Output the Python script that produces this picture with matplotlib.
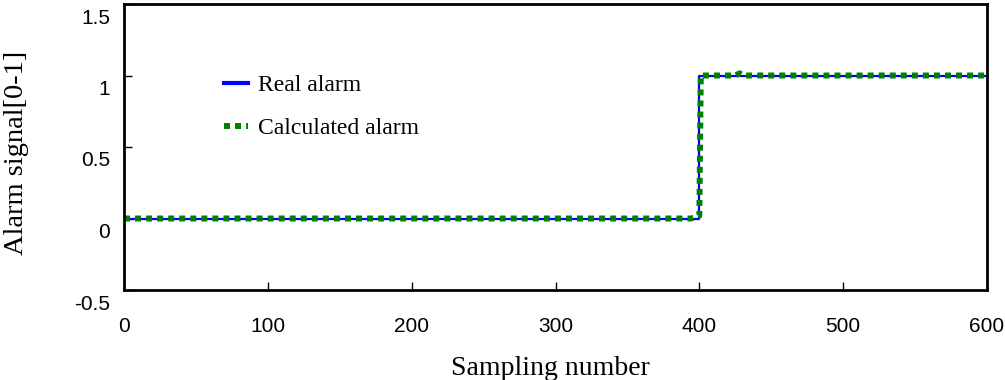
import matplotlib
matplotlib.use('Agg')
import matplotlib.pyplot as plt
import matplotlib.transforms as mtransforms

# Real alarm: step from 0 to 1 at sample 400
real_x = [0, 400, 400, 600]
real_y = [0, 0, 1, 1]

# Calculated alarm: same step with small deviations
calc_x = [0, 394, 398, 400, 401, 425, 428, 431, 600]
calc_y = [0, 0, 0.01, 0.02, 1, 1, 1.015, 1, 1]

xticks = [0, 100, 200, 300, 400, 500, 600]
yticks = [-0.5, 0, 0.5, 1, 1.5]
ytick_labels = ['-0.5', '0', '0.5', '1', '1.5']

fig = plt.figure(figsize=(10.05, 3.8), dpi=100)
ax = fig.add_axes([124 / 1005, 1 - 290 / 380, (987 - 124) / 1005, (290 - 4) / 380])

ax.plot(real_x, real_y, color='#0000ff', linewidth=1.6, label='Real alarm')
ax.plot(calc_x, calc_y, color='#008000', linewidth=4.3, linestyle=(0, (1.0, 0.85)),
        label='Calculated alarm')

ax.set_xlim(0, 600)
ax.set_ylim(-0.5, 1.5)
ax.set_xticks(xticks)
ax.set_yticks(yticks)
ax.set_yticklabels(ytick_labels)
ax.tick_params(direction='in', length=6, width=1, labelsize=15)
ax.tick_params(axis='x', pad=19.5)
ax.tick_params(axis='y', pad=10)

# tick labels on the y axis sit a little below their ticks in the original
shift = mtransforms.ScaledTranslation(0, -0.12, fig.dpi_scale_trans)
for lab in ax.get_yticklabels():
    lab.set_transform(lab.get_transform() + shift)
for lab in ax.get_xticklabels() + ax.get_yticklabels():
    lab.set_family('Liberation Sans')
for s in ax.spines.values():
    s.set_linewidth(2)

ax.set_xlabel('Sampling number', family='Liberation Serif', fontsize=20)
ax.set_ylabel('Alarm signal[0-1]', family='Liberation Serif', fontsize=20.5)
ax.xaxis.set_label_coords(0.494, -0.23)
ax.yaxis.set_label_coords(-0.110, 0.48)

leg = ax.legend(loc='upper left', bbox_to_anchor=(0.116, 0.754), frameon=False,
                prop={'family': 'Liberation Serif', 'size': 17}, handlelength=1.0,
                labelspacing=0.93, handletextpad=0.45, borderpad=0, borderaxespad=0)
leg.get_lines()[0].set_linewidth(3)

plt.savefig('out.png', dpi=100)
